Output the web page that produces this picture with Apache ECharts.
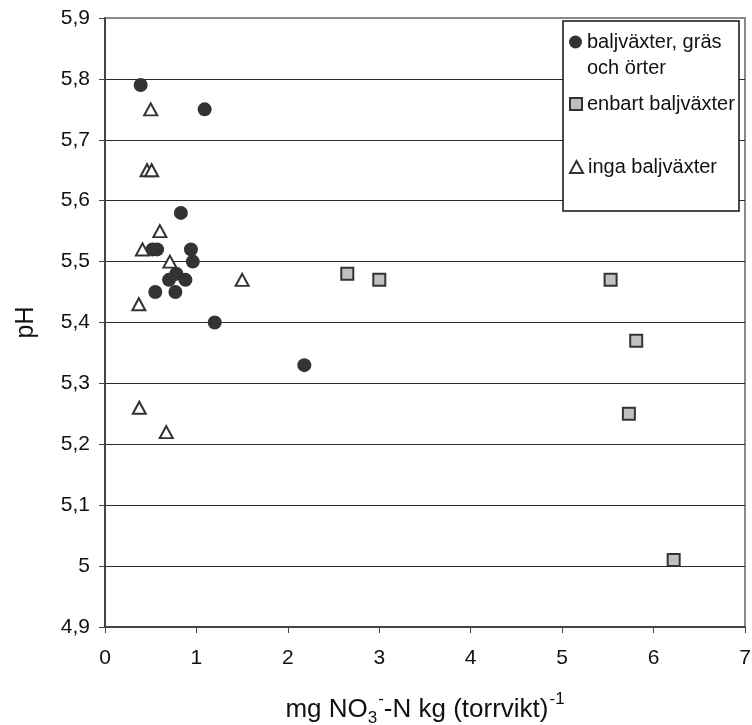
<!DOCTYPE html>
<html>
<head>
<meta charset="utf-8">
<script src="https://cdn.jsdelivr.net/npm/echarts@6/dist/echarts.min.js"></script>
<style>html,body{margin:0;padding:0;background:#fff}#c{width:752px;height:725px}</style>
</head>
<body>
<div id="c"></div>
<script>
var seriesNames = ['baljväxter, gräs\noch örter', 'enbart baljväxter', 'inga baljväxter'];
var circleX = [0.39, 1.09, 0.83, 0.52, 0.57, 0.94, 0.96, 0.78, 0.70, 0.88, 0.55, 0.77, 1.20, 2.18];
var circleY = [5.79, 5.75, 5.58, 5.52, 5.52, 5.52, 5.50, 5.48, 5.47, 5.47, 5.45, 5.45, 5.40, 5.33];
var squareX = [2.65, 3.00, 5.53, 5.81, 5.73, 6.22];
var squareY = [5.48, 5.47, 5.47, 5.37, 5.25, 5.01];
var triX = [0.50, 0.46, 0.51, 0.60, 0.41, 0.71, 1.50, 0.37, 0.375, 0.67];
var triY = [5.75, 5.65, 5.65, 5.55, 5.52, 5.50, 5.47, 5.43, 5.26, 5.22];
var xTicks = [0, 1, 2, 3, 4, 5, 6, 7];
var yMin = 4.9, yMax = 5.9, yStep = 0.1;

function pairs(xs, ys) { return xs.map(function (x, i) { return [x, ys[i]]; }); }

var FONT = '"Liberation Sans", Arial, sans-serif';
var chart = echarts.init(document.getElementById('c'), null, { renderer: 'canvas' });

var gridColors = [];
for (var i = 0; i <= 10; i++) gridColors.push(i === 10 ? '#8a8a8a' : '#2a2a2a');

var legendText = { fontFamily: FONT, fontSize: 20, color: '#111', lineHeight: 26 };

chart.setOption({
  animation: false,
  grid: { left: 105, right: 7, top: 18, bottom: 98, show: true, borderColor: '#8a8a8a', borderWidth: 2, containLabel: false, outerBoundsMode: 'none' },
  xAxis: {
    type: 'value', min: xTicks[0], max: xTicks[xTicks.length - 1], interval: 1,
    axisLine: { show: true, onZero: false, lineStyle: { color: '#444', width: 2 } },
    axisTick: { show: true, length: 6, lineStyle: { color: '#444', width: 1 } },
    axisLabel: { fontFamily: FONT, fontSize: 21, color: '#111', margin: 21 },
    splitLine: { show: false },
    name: '{t|mg NO}{sub|3}{sup|-}{t|-N kg (torrvikt)}{sup|-1}',
    nameLocation: 'middle', nameGap: 64,
    nameTextStyle: {
      fontFamily: FONT, color: '#111',
      rich: {
        t: { fontFamily: FONT, fontSize: 26, color: '#111', verticalAlign: 'bottom', lineHeight: 32 },
        sub: { fontFamily: FONT, fontSize: 17, color: '#111', verticalAlign: 'bottom', padding: [0, 0, -4, 0], lineHeight: 32 },
        sup: { fontFamily: FONT, fontSize: 17, color: '#111', verticalAlign: 'top', lineHeight: 32, padding: [0, 0, 0, 1] }
      }
    }
  },
  yAxis: {
    type: 'value', min: yMin, max: yMax, interval: yStep,
    axisLine: { show: true, lineStyle: { color: '#444', width: 2 } },
    axisTick: { show: true, length: 6, lineStyle: { color: '#444', width: 1 } },
    axisLabel: {
      fontFamily: FONT, fontSize: 21, color: '#111', margin: 15,
      formatter: function (v) { return String(Math.round(v * 10) / 10).replace('.', ','); }
    },
    splitLine: { show: true, lineStyle: { color: gridColors, width: 1 } },
    name: 'pH', nameLocation: 'middle', nameRotate: 90, nameGap: 66,
    nameTextStyle: { fontFamily: FONT, fontSize: 25, color: '#111' }
  },
  graphic: [{
    type: 'rect', z: 3, silent: true,
    shape: { x: 563, y: 21, width: 176, height: 190 },
    style: { fill: '#fff', stroke: '#111', lineWidth: 1.5 }
  }],
  legend: [
    { data: [seriesNames[0]], orient: 'vertical', left: 569, top: 3, padding: 0, itemWidth: 13, itemHeight: 13, z: 5,
      formatter: function (n) { return ' \n' + n; }, textStyle: legendText },
    { data: [seriesNames[1]], orient: 'vertical', left: 569, top: 91, padding: 0, itemWidth: 12, itemHeight: 12, z: 5, textStyle: legendText },
    { data: [seriesNames[2]], orient: 'vertical', left: 569, top: 154, padding: 0, itemWidth: 13, itemHeight: 12, z: 5, textStyle: legendText }
  ],
  series: [
    { name: seriesNames[0], type: 'scatter', symbol: 'circle', symbolSize: 14,
      itemStyle: { color: '#333', opacity: 1 }, data: pairs(circleX, circleY) },
    { name: seriesNames[1], type: 'scatter', symbol: 'rect', symbolSize: 12,
      itemStyle: { color: '#c0c0c0', borderColor: '#333', borderWidth: 2, opacity: 1 }, data: pairs(squareX, squareY) },
    { name: seriesNames[2], type: 'scatter', symbol: 'triangle', symbolSize: [13, 12],
      itemStyle: { color: '#fff', borderColor: '#333', borderWidth: 2, opacity: 1 }, data: pairs(triX, triY) }
  ]
});
</script>
</body>
</html>
